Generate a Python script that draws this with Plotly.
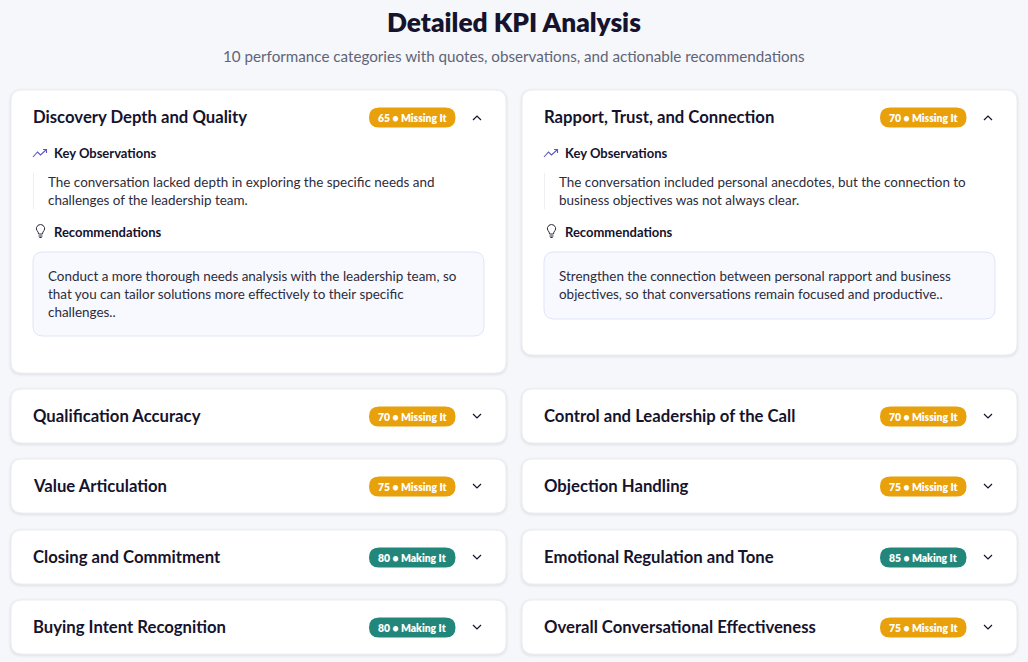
import plotly.graph_objects as go

FONT = "Lato"
INK = "#15132e"
BODY = "#2c2c3c"
AMBER = "#e8a00b"
TEAL = "#22877a"

# kpi values, column order in the picture goes left, right, left, right...
kpi_names = [
    "Discovery Depth and Quality", "Rapport, Trust, and Connection",
    "Qualification Accuracy", "Control and Leadership of the Call",
    "Value Articulation", "Objection Handling",
    "Closing and Commitment", "Emotional Regulation and Tone",
    "Buying Intent Recognition", "Overall Conversational Effectiveness",
]
kpi_scores = [65, 70, 70, 70, 75, 75, 80, 85, 80, 75]
kpi_status = ["Missing It", "Missing It", "Missing It", "Missing It", "Missing It",
              "Missing It", "Making It", "Making It", "Making It", "Missing It"]

observations = [
    ["The conversation lacked depth in exploring the specific needs and",
     "challenges of the leadership team."],
    ["The conversation included personal anecdotes, but the connection to",
     "business objectives was not always clear."],
]
recommendations = [
    ["Conduct a more thorough needs analysis with the leadership team, so",
     "that you can tailor solutions more effectively to their specific",
     "challenges.."],
    ["Strengthen the connection between personal rapport and business",
     "objectives, so that conversations remain focused and productive.."],
]

# layout of the cards in page pixels
col_left = [11, 522]
card_width = 495
open_top = 90
open_bottom = [373, 355]
row_top = [389, 459, 530, 600]
row_height = 54
box_bottom = [336, 319]

shapes = []
notes = []


def round_rect(x0, y0, x1, y1, r):
    return (f"M{x0+r},{y0} L{x1-r},{y0} Q{x1},{y0} {x1},{y0+r} L{x1},{y1-r} Q{x1},{y1} {x1-r},{y1} "
            f"L{x0+r},{y1} Q{x0},{y1} {x0},{y1-r} L{x0},{y0+r} Q{x0},{y0} {x0+r},{y0} Z")


def add_text(x, y, text, size, color=BODY, weight=400, anchor="left"):
    notes.append(dict(x=x, y=y, xref="x", yref="y", text=text, showarrow=False,
                      xanchor=anchor, yanchor="middle", align=anchor,
                      font=dict(family=FONT, size=size, color=color, weight=weight)))


def add_line(path, color, width=1.2):
    shapes.append(dict(type="path", path=path, xref="x", yref="y",
                       line=dict(color=color, width=width), fillcolor="rgba(0,0,0,0)"))


def add_card(x0, y0, x1, y1):
    # soft shadow, a few stacked rects
    for grow, alpha in [(3, 0.012), (2, 0.02), (1, 0.035)]:
        shapes.append(dict(type="path", path=round_rect(x0-grow, y0-grow+1, x1+grow, y1+grow+1, 11+grow),
                           xref="x", yref="y", fillcolor=f"rgba(30,35,60,{alpha})", line=dict(width=0)))
    shapes.append(dict(type="path", path=round_rect(x0, y0, x1, y1, 11), xref="x", yref="y",
                       fillcolor="#ffffff", line=dict(color="#eceef2", width=1)))


def add_header(i, x0, y_mid, is_open):
    add_text(x0 + 20, y_mid - 0.5, kpi_names[i], 16.7, INK, 700)
    color = AMBER if kpi_status[i] == "Missing It" else TEAL
    bx0, bx1 = x0 + 358, x0 + 444.5
    by0, by1 = y_mid - 9.5, y_mid + 10.5
    shapes.append(dict(type="path", path=round_rect(bx0, by0, bx1, by1, 10), xref="x", yref="y",
                       fillcolor=color, line=dict(width=0)))
    add_text((bx0 + bx1) / 2, y_mid + 0.5, f"{kpi_scores[i]} • {kpi_status[i]}", 10.4, "#ffffff", 800, "center")
    cx = x0 + 466
    if is_open:
        add_line(f"M{cx-4},{y_mid+3} L{cx},{y_mid-1} L{cx+4},{y_mid+3}", INK)
    else:
        add_line(f"M{cx-4},{y_mid-2} L{cx},{y_mid+2} L{cx+4},{y_mid-2}", INK)


def add_trend_icon(x, y):
    add_line(f"M{x-7},{y+4} L{x-2.5},{y-1} L{x+0.5},{y+2} L{x+6.5},{y-3.5}", "#5a55c8", 1.1)
    add_line(f"M{x+3},{y-3.5} L{x+6.5},{y-3.5} L{x+6.5},{y}", "#5a55c8", 1.1)


def add_bulb_icon(x, y):
    add_line(f"M{x-2},{y+3} Q{x-2},{y+1} {x-3.5},{y-0.5} Q{x-4.5},{y-2} {x-4},{y-3.5} "
             f"Q{x-3},{y-6.5} {x},{y-6.5} Q{x+3},{y-6.5} {x+4},{y-3.5} Q{x+4.5},{y-2} {x+3.5},{y-0.5} "
             f"Q{x+2},{y+1} {x+2},{y+3} Z", "#2c2c3c", 1.0)
    add_line(f"M{x-2},{y+5} L{x+2},{y+5}", "#2c2c3c", 1.0)
    add_line(f"M{x-1.2},{y+6.5} L{x+1.2},{y+6.5}", "#2c2c3c", 1.0)


# the two expanded cards
for c in range(2):
    x0 = col_left[c]
    add_card(x0, open_top, x0 + card_width, open_bottom[c])
    add_header(c, x0, 117, True)

    add_trend_icon(x0 + 29, 153)
    add_text(x0 + 41, 152.5, "Key Observations", 13, INK, 700)
    shapes.append(dict(type="line", x0=x0 + 22.5, x1=x0 + 22.5, y0=173, y1=209, xref="x", yref="y",
                       line=dict(color="#eceef2", width=1)))
    for k, line in enumerate(observations[c]):
        add_text(x0 + 35, 181.5 + k * 18, line, 13.45)

    add_bulb_icon(x0 + 29.5, 231)
    add_text(x0 + 41, 231.5, "Recommendations", 13, INK, 700)
    shapes.append(dict(type="path", path=round_rect(x0 + 22, 252, x0 + 473, box_bottom[c], 10), xref="x", yref="y",
                       fillcolor="#f7f9ff", line=dict(color="#dfe5f7", width=1)))
    for k, line in enumerate(recommendations[c]):
        add_text(x0 + 35, 275.5 + k * 18, line, 13.45)

# collapsed rows
for i in range(2, len(kpi_names)):
    c = i % 2
    top = row_top[i // 2 - 1]
    x0 = col_left[c]
    add_card(x0, top, x0 + card_width, top + row_height)
    add_header(i, x0, top + 27, False)

add_text(514, 22, "Detailed KPI Analysis", 26.3, INK, 800, "center")
add_text(514, 55.5, "10 performance categories with quotes, observations, and actionable recommendations",
         15.2, "#5f6478", 400, "center")

fig = go.Figure()
fig.update_layout(
    width=1028, height=662,
    margin=dict(l=0, r=0, t=0, b=0),
    paper_bgcolor="#f5f7fa", plot_bgcolor="#f5f7fa",
    xaxis=dict(range=[0, 1028], visible=False, fixedrange=True),
    yaxis=dict(range=[662, 0], visible=False, fixedrange=True),
    shapes=shapes, annotations=notes, showlegend=False,
)
fig.write_html("out.html", config={"displayModeBar": False},
               post_script="document.body.style.margin='0';document.body.style.overflow='hidden';")
